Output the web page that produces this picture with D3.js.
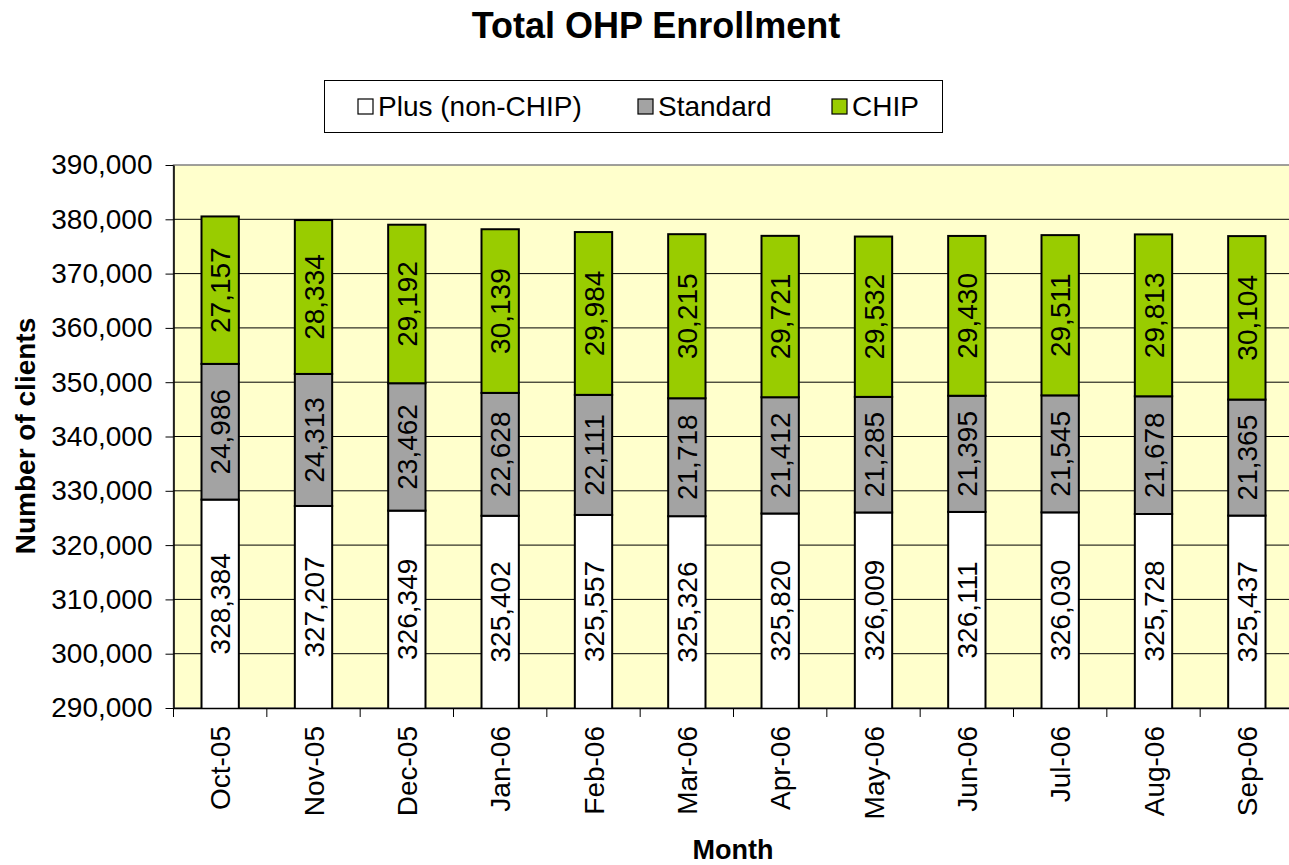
<!DOCTYPE html>
<html>
<head>
<meta charset="utf-8">
<script src="https://cdn.jsdelivr.net/npm/d3@7"></script>
<style>
  body { margin: 0; background: #fff; }
  text { font-family: "Liberation Sans", Arial, sans-serif; fill: #000; }
</style>
</head>
<body>
<div id="chart"></div>
<script>
// Data
const months = ["Oct-05", "Nov-05", "Dec-05", "Jan-06", "Feb-06", "Mar-06",
  "Apr-06", "May-06", "Jun-06", "Jul-06", "Aug-06", "Sep-06"]
const plus = [328384, 327207, 326349, 325402, 325557, 325326, 325820, 326009, 326111, 326030, 325728, 325437]
const standard = [24986, 24313, 23462, 22628, 22111, 21718, 21412, 21285, 21395, 21545, 21678, 21365]
const chip = [27157, 28334, 29192, 30139, 29984, 30215, 29721, 29532, 29430, 29511, 29813, 30104]
const seriesNames = ["Plus (non-CHIP)", "Standard", "CHIP"]
const seriesColors = ["#ffffff", "#a3a3a3", "#99cc00"]
const yTicks = [290000, 300000, 310000, 320000, 330000, 340000, 350000, 360000, 370000, 380000, 390000]

const dataset = months.map((m, i) => ({ month: m, plus: plus[i], standard: standard[i], chip: chip[i] }))
const keys = ["plus", "standard", "chip"]

// Dimensions
const dimensions = {
  width: 1289,
  height: 865,
  left: 173.5,
  right: 1293.5,
  top: 165,
  bottom: 708,
}

const svg = d3.select('#chart')
  .append("svg")
  .attr("width", dimensions.width)
  .attr("height", dimensions.height)

// Scales
const xScale = d3.scaleBand()
  .domain(months)
  .range([dimensions.left, dimensions.right])
  .paddingInner(0.6)
  .paddingOuter(0.3)

const bandScale = d3.scaleBand()
  .domain(months)
  .range([dimensions.left, dimensions.right])

const yScale = d3.scaleLinear()
  .domain([290000, 390000])
  .range([dimensions.bottom, dimensions.top])

// plot background
svg.append("rect")
  .attr("x", dimensions.left)
  .attr("y", dimensions.top)
  .attr("width", dimensions.right - dimensions.left)
  .attr("height", dimensions.bottom - dimensions.top)
  .attr("fill", "#ffffcc")
  .attr("stroke", "#808080")
  .attr("stroke-width", 1.5)

// gridlines
svg.append("g")
  .selectAll("line")
  .data(yTicks.slice(1, -1))
  .join("line")
  .attr("x1", dimensions.left)
  .attr("x2", dimensions.right)
  .attr("y1", d => yScale(d))
  .attr("y2", d => yScale(d))
  .attr("stroke", "#000")
  .attr("stroke-width", 1)

// Stacked bars
const stack = d3.stack().keys(keys)(dataset)
svg.append("clipPath").attr("id", "plotclip")
  .append("rect")
  .attr("x", dimensions.left)
  .attr("y", dimensions.top)
  .attr("width", dimensions.right - dimensions.left)
  .attr("height", dimensions.bottom - dimensions.top)

const barsGroup = svg.append("g").attr("clip-path", "url(#plotclip)")
stack.forEach((layer, li) => {
  barsGroup.append("g")
    .selectAll("rect")
    .data(layer)
    .join("rect")
    .attr("x", d => xScale(d.data.month))
    .attr("width", xScale.bandwidth())
    .attr("y", d => yScale(d[1]))
    .attr("height", d => yScale(d[0]) - yScale(d[1]))
    .attr("fill", seriesColors[li])
    .attr("stroke", "#000")
    .attr("stroke-width", 2)
})

// Value labels
const labelGroup = svg.append("g")
stack.forEach((layer, li) => {
  labelGroup.append("g")
    .selectAll("text")
    .data(layer)
    .join("text")
    .attr("transform", d => {
      const y0 = Math.min(yScale(d[0]), dimensions.bottom)
      const y1 = yScale(d[1])
      const cx = xScale(d.data.month) + xScale.bandwidth() / 2
      return `translate(${cx}, ${(y0 + y1) / 2}) rotate(-90)`
    })
    .attr("text-anchor", "middle")
    .attr("dy", "0.36em")
    .style("font-size", "28px")
    .text(d => d3.format(",")(d[1] - d[0]))
})

// Axes
const yAxis = d3.axisLeft(yScale)
  .tickValues(yTicks)
  .tickFormat(d3.format(","))
  .tickSize(8)
  .tickSizeOuter(0)

const yAxisGroup = svg.append("g")
  .attr("transform", `translate(${dimensions.left}, 0)`)
  .call(yAxis)
yAxisGroup.select(".domain").attr("stroke", "#000").attr("stroke-width", 1.5)
yAxisGroup.selectAll(".tick line").attr("stroke", "#000")
yAxisGroup.selectAll(".tick text")
  .attr("x", -21)
  .style("font-size", "28px")
  .style("font-family", "Liberation Sans, Arial, sans-serif")

const xAxis = d3.axisBottom(bandScale)
  .tickValues([])
  .tickSizeOuter(0)
const xAxisGroup = svg.append("g")
  .attr("transform", `translate(0, ${dimensions.bottom})`)
  .call(xAxis)
xAxisGroup.select(".domain").attr("stroke", "#000").attr("stroke-width", 1.5)

// category boundary ticks
xAxisGroup.selectAll(".bound")
  .data(months)
  .join("line")
  .attr("x1", d => bandScale(d))
  .attr("x2", d => bandScale(d))
  .attr("y1", 0)
  .attr("y2", 9)
  .attr("stroke", "#000")

xAxisGroup.selectAll(".cat")
  .data(months)
  .join("text")
  .attr("transform", d => `translate(${bandScale(d) + bandScale.bandwidth() / 2}, 18) rotate(-90)`)
  .attr("text-anchor", "end")
  .attr("dy", "0.36em")
  .style("font-size", "28px")
  .text(d => d)

// Titles
svg.append("text")
  .attr("x", 656)
  .attr("y", 38)
  .attr("text-anchor", "middle")
  .style("font-size", "36px")
  .style("font-weight", "bold")
  .text("Total OHP Enrollment")

svg.append("text")
  .attr("x", 733)
  .attr("y", 859)
  .attr("text-anchor", "middle")
  .style("font-size", "27px")
  .style("font-weight", "bold")
  .text("Month")

svg.append("text")
  .attr("transform", "translate(35, 436) rotate(-90)")
  .attr("text-anchor", "middle")
  .style("font-size", "28px")
  .style("font-weight", "bold")
  .text("Number of clients")

// Legend
const legend = svg.append("g")
legend.append("rect")
  .attr("x", 324.5)
  .attr("y", 80.5)
  .attr("width", 618)
  .attr("height", 52)
  .attr("fill", "#fff")
  .attr("stroke", "#000")
  .attr("stroke-width", 1)

const legendX = [358, 638, 832]
const items = legend.selectAll("g.item")
  .data(seriesNames)
  .join("g")
  .attr("transform", (d, i) => `translate(${legendX[i]}, 106)`)
items.append("rect")
  .attr("x", 0)
  .attr("y", -7)
  .attr("width", 15)
  .attr("height", 15)
  .attr("fill", (d, i) => seriesColors[i])
  .attr("stroke", "#000")
  .attr("stroke-width", 1.2)
items.append("text")
  .attr("x", 20)
  .attr("dy", "0.36em")
  .style("font-size", "28px")
  .text(d => d)
</script>
</body>
</html>
